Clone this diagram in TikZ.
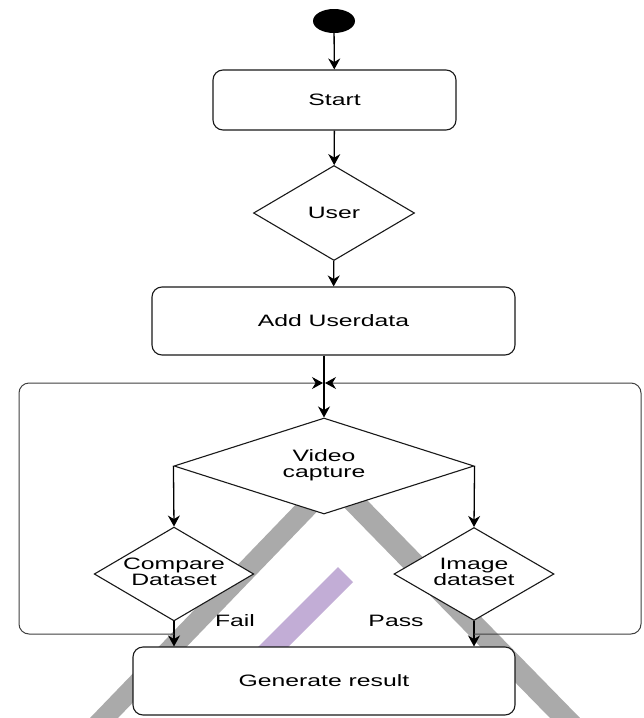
\documentclass[tikz,border=0pt]{standalone}
\usepackage{fontspec}
\setmainfont{Liberation Sans}
\usepackage{graphicx}
\usetikzlibrary{shapes.geometric,arrows.meta}
\newcommand{\hs}[1]{\scalebox{1.5}[1]{#1}}
\newcommand{\twol}[2]{\scalebox{1.5}[1]{\begin{tabular}{@{}c@{}}#1\\[-1pt]#2\end{tabular}}}
\definecolor{bandgrey}{HTML}{AAAAAA}
\definecolor{bandpurple}{HTML}{C2ADD6}
\begin{document}
\begin{tikzpicture}[x=1pt,y=-1pt,
  font=\fontsize{16.5}{17.5}\selectfont,
  rbox/.style={draw=black!90, line width=1.1pt, fill=white, rounded corners=10pt, inner sep=0pt},
  dia/.style={diamond, draw=black!90, line width=1.1pt, fill=white, inner sep=0pt, aspect=1.7},
  arr/.style={draw=black, line width=1.3pt, -{Stealth[length=11pt,width=12pt]}},
  loopline/.style={draw=black!75, line width=1pt, rounded corners=10pt, -{Stealth[length=11pt,width=12pt,color=black]}, shorten >=1pt}
]
\useasboundingbox (0,0) rectangle (643,718);
\fill[white] (0,0) rectangle (643,718);
% background bands
\fill[bandgrey] (305,495) -- (333,495) -- (118,718) -- (90,718) -- cycle;
\fill[bandgrey] (332,495) -- (362,495) -- (580,718) -- (550,718) -- cycle;
\fill[bandpurple] (338,567) -- (353,582) -- (275,660) -- (245,660) -- cycle;

% nodes
\node[ellipse, fill=black, minimum width=42pt, minimum height=24pt, inner sep=0pt] (init) at (334,21) {};
\node[rbox, minimum width=243pt, minimum height=60pt] (start) at (334.5,100) {\hs{Start}};
\node[dia, minimum width=161pt, minimum height=95pt] (user) at (334,213) {\hs{User}};
\node[rbox, minimum width=363pt, minimum height=68pt] (add) at (333.5,321) {\hs{Add Userdata}};
\node[dia, minimum width=300pt, minimum height=96pt, aspect=3] (vid) at (324,466) {\twol{Video}{capture}};
\node[dia, minimum width=157pt, minimum height=92pt] (cmp) at (174,574) {\twol{Compare}{Dataset}};
\node[dia, minimum width=160pt, minimum height=93pt] (img) at (474,574) {\twol{Image}{dataset}};
\node[rbox, minimum width=382pt, minimum height=68pt] (gen) at (324,681) {\hs{Generate result}};
\node (fail) at (235,621) {\hs{Fail}};
\node (pass) at (396,621) {\hs{Pass}};

\coordinate (jn) at (324,383);
\coordinate (lb) at (174,634);
\coordinate (rb) at (474,634);

% connectors
\draw[arr] (init) -- (start);
\draw[arr] (start) -- (user);
\draw[arr] (user) -- (add);
\draw[arr] (add.south -| vid.north) -- (vid.north);
\draw[arr] (vid.west) -- (cmp.north);
\draw[arr] (vid.east) -- (img.north);
\draw[arr] (cmp.south) -- (gen.north -| cmp.south);
\draw[arr] (img.south) -- (gen.north -| img.south);
\draw[loopline] (lb) -- (19,634) -- (19,383) -- (jn);
\draw[loopline] (rb) -- (641,634) -- (641,383) -- (jn);
\end{tikzpicture}
\end{document}
